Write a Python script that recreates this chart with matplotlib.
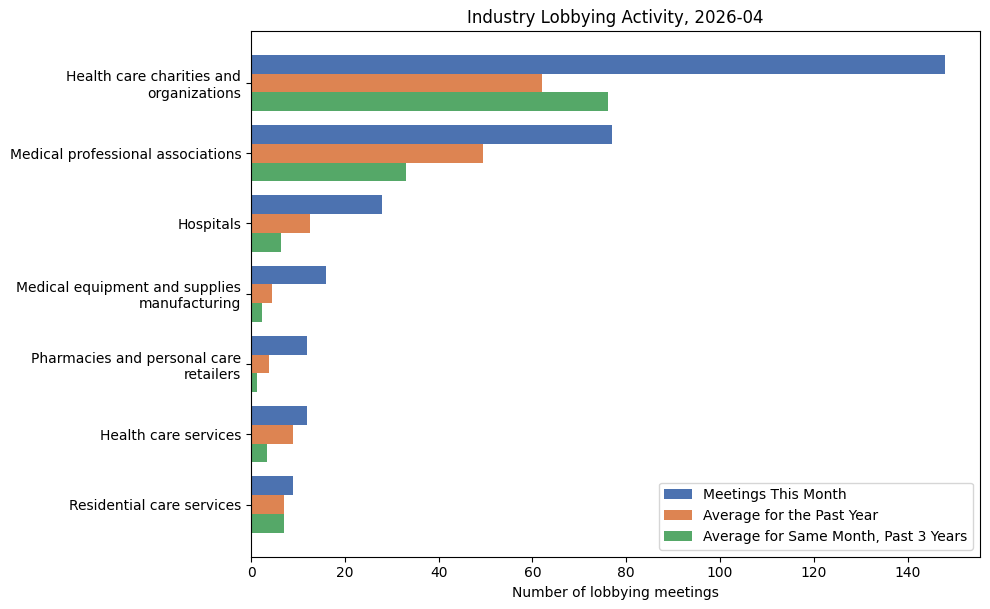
import matplotlib
matplotlib.use("Agg")
import matplotlib.pyplot as plt
import numpy as np

categories = [
    "Health care charities and\norganizations",
    "Medical professional associations",
    "Hospitals",
    "Medical equipment and supplies\nmanufacturing",
    "Pharmacies and personal care\nretailers",
    "Health care services",
    "Residential care services",
]
meetings_this_month = [148, 77, 28, 16, 12, 12, 9]
avg_past_year = [62.0, 49.5, 12.5, 4.42, 3.75, 9.0, 7.0]
avg_same_month_3y = [76.0, 33.0, 6.33, 2.33, 1.33, 3.33, 7.0]
series_labels = ["Meetings This Month", "Average for the Past Year",
                 "Average for Same Month, Past 3 Years"]
colors = ["#4C72B0", "#DD8452", "#55A868"]

fig, ax = plt.subplots(figsize=(9.9, 6.09), dpi=100)
y = np.arange(len(categories))
h = 0.8 / 3
for i, (vals, lab, c) in enumerate(zip([meetings_this_month, avg_past_year, avg_same_month_3y],
                                       series_labels, colors)):
    ax.barh(y + (i - 1) * h, vals, height=h, color=c, label=lab)

ax.set_yticks(y)
ax.set_yticklabels(categories)
ax.invert_yaxis()
ax.set_xlabel("Number of lobbying meetings")
ax.set_title("Industry Lobbying Activity, 2026-04")
ax.legend(loc="lower right")
fig.subplots_adjust(left=251/990, right=980/990, top=1-31/609, bottom=1-556.5/609)
fig.savefig("out.png", dpi=100)
